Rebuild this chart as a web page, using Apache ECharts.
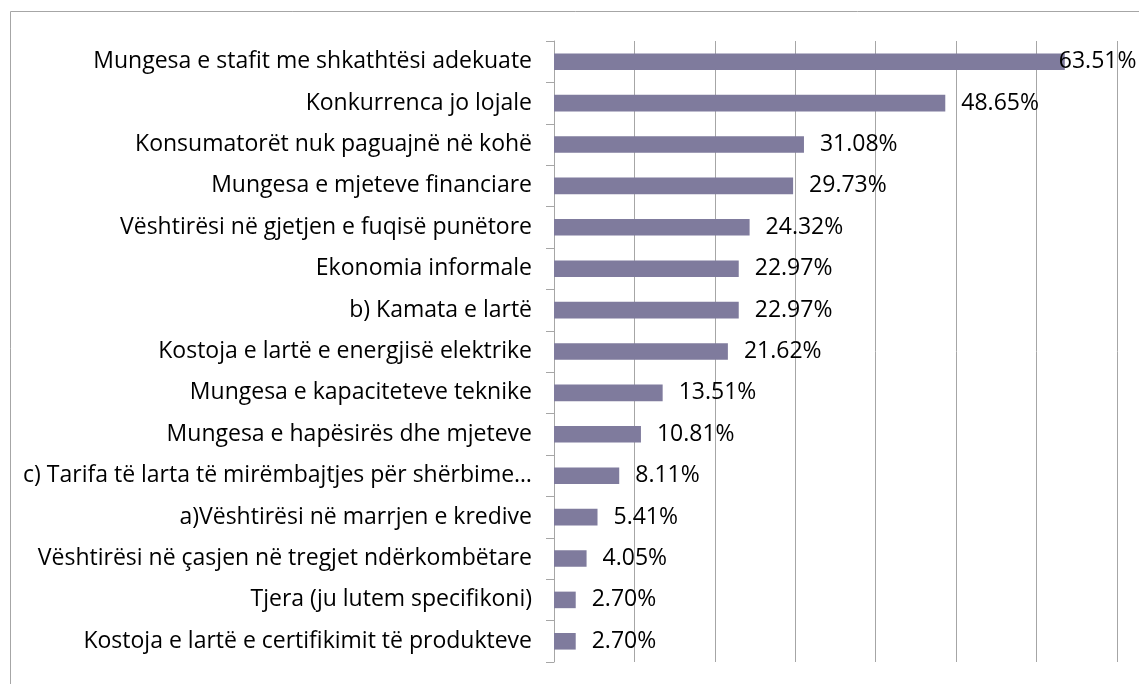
<!DOCTYPE html>
<html>
<head>
<meta charset="utf-8">
<script src="https://cdn.jsdelivr.net/npm/echarts@6/dist/echarts.min.js"></script>
<style>
html,body{margin:0;padding:0;background:#fff;}
#chart{width:1139px;height:684px;}
</style>
</head>
<body>
<div id="chart"></div>
<script>
const categories = [
  "Mungesa e stafit me shkathtësi adekuate",
  "Konkurrenca jo lojale",
  "Konsumatorët nuk paguajnë në kohë",
  "Mungesa e mjeteve financiare",
  "Vështirësi në gjetjen e fuqisë punëtore",
  "Ekonomia informale",
  "b) Kamata e lartë",
  "Kostoja e lartë e energjisë elektrike",
  "Mungesa e kapaciteteve teknike",
  "Mungesa e hapësirës dhe mjeteve",
  "c) Tarifa të larta të mirëmbajtjes për shërbime…",
  "a)Vështirësi në marrjen e kredive",
  "Vështirësi në çasjen në tregjet ndërkombëtare",
  "Tjera (ju lutem specifikoni)",
  "Kostoja e lartë e certifikimit të produkteve"
];
const values = [63.51, 48.65, 31.08, 29.73, 24.32, 22.97, 22.97, 21.62, 13.51, 10.81, 8.11, 5.41, 4.05, 2.70, 2.70];
const axisMin = 0, axisMax = 70, axisStep = 10;

const FONT = '"Open Sans", sans-serif';
const chart = echarts.init(document.getElementById('chart'));
chart.setOption({
  animation: false,
  backgroundColor: '#ffffff',
  graphic: [{
    type: 'rect',
    shape: { x: 10.5, y: 11.5, width: 1300, height: 900 },
    style: { fill: 'none', stroke: '#a6a6a6', lineWidth: 1 },
    silent: true
  }],
  grid: { left: 554, top: 41, width: 563, height: 621, containLabel: false },
  xAxis: {
    type: 'value', min: axisMin, max: axisMax, interval: axisStep,
    axisLabel: { show: false }, axisTick: { show: false },
    axisLine: { show: false },
    splitLine: { show: true, lineStyle: { color: '#a6a6a6', width: 1 } }
  },
  yAxis: {
    type: 'category', data: categories, inverse: true,
    axisLine: { show: true, lineStyle: { color: '#a6a6a6', width: 1 } },
    axisTick: { show: true, length: 8, lineStyle: { color: '#a6a6a6' } },
    axisLabel: { color: '#000', fontFamily: FONT, fontSize: 23, margin: 22 }
  },
  series: [{
    type: 'bar',
    data: values.map((v, i) => i === 0
      ? { value: v, label: { distance: -6 } }
      : v),
    barWidth: '40%',
    itemStyle: { color: '#7f7b9d' },
    label: {
      show: true, position: 'right', distance: 16,
      color: '#000', fontFamily: FONT, fontSize: 23,
      formatter: p => p.value.toFixed(2) + '%'
    }
  }]
});
</script>
</body>
</html>
